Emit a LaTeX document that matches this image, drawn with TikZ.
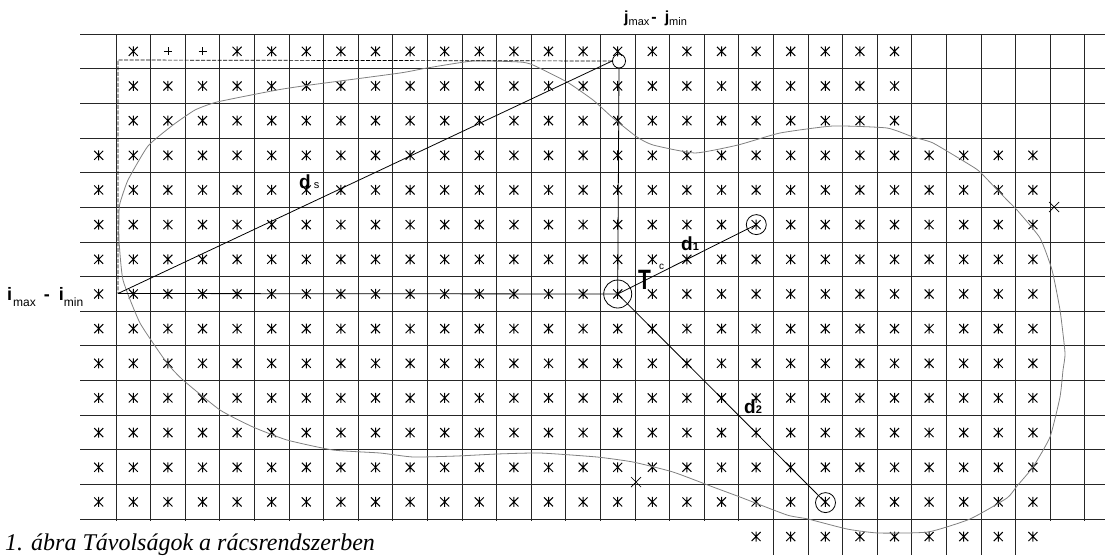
\documentclass[tikz,border=0pt]{standalone}
\usepackage{fontspec}
\setmainfont{Liberation Sans}
\newfontfamily\capfont{Liberation Serif}
\usepackage{tikz}
\usetikzlibrary{positioning, shapes.geometric}
\newcommand{\cw}{34.6}
\newcommand{\ch}{34.66}
\newcommand{\sub}[2][-2pt]{\raisebox{#1}{\fontsize{11}{11}\mdseries\selectfont #2}}
\newcommand{\cellstar}[2]{\draw[starline] ({98.7+#1*\cw},{16.67+#2*\ch}) +(-4.5,-4.5) -- +(4.5,4.5) +(-4.5,4.5) -- +(4.5,-4.5) +(0,-5) -- +(0,5);}
\newcommand{\cellplus}[2]{\draw[starline, line width=0.6pt] ({98.7+#1*\cw},{16.67+#2*\ch}) +(-4,0) -- +(4,0) +(0,-4) -- +(0,4);}
\tikzset{
  gridline/.style={black!85, line width=0.9pt},
  starline/.style={black, line width=1pt},
  outline/.style={gray, line width=0.8pt},
  dist/.style={black, line width=0.8pt},
  frame/.style={black, line width=0.7pt, dash pattern=on 4pt off 1.5pt},
  ring/.style={draw, circle, inner sep=0pt, line width=0.8pt},
  lbl/.style={inner sep=0pt, anchor=base west, font=\bfseries\fontsize{19}{19}\selectfont},
}

\begin{document}
\begin{tikzpicture}[x=1pt, y=-1pt]
  \useasboundingbox (0,0) rectangle (1105,555);
  % grid
  \foreach \r in {0,...,14}
    \draw[gridline] (80,{34+\r*\ch}) -- (1105,{34+\r*\ch});
  \foreach \k in {0,...,28}
    \draw[gridline] ({116+\k*\cw},34) -- ({116+\k*\cw},521);
  \foreach \k in {19,...,26}
    \draw[gridline] ({116+\k*\cw},521) -- ({116+\k*\cw},555);
  % markers
  \cellstar{1}{1}
  \cellplus{2}{1}
  \cellplus{3}{1}
  \foreach \c in {4,...,23} {\cellstar{\c}{1}}
  \foreach \r in {2,3} {\foreach \c in {1,...,23} {\cellstar{\c}{\r}}}
  \foreach \r in {4,...,14} {\foreach \c in {0,...,27} {\cellstar{\c}{\r}}}
  \foreach \c in {19,...,27} {\cellstar{\c}{15}}
  \draw[starline, line width=0.7pt] (1054,207) +(-5,-5) -- +(5,5) +(-5,5) -- +(5,-5);
  \draw[starline, line width=0.7pt] (636,482) +(-5,-5) -- +(5,5) +(-5,5) -- +(5,-5);
  % boundary
  \draw[outline] plot[smooth cycle, tension=0.3] coordinates {
    (120,203) (128,180) (148,146) (173,125) (195,110) (217,102) (277,90)
    (310,85) (400,73) (427,68) (473,61) (520,62) (533,65) (567,82)
    (593,100) (613,118) (637,137) (653,145) (695,153) (738,145) (780,133)
    (833,126) (887,128) (913,137) (933,143) (970,165) (980,172) (1007,200)
    (1017,210) (1040,238) (1052,270) (1060,310) (1065,353) (1063,370)
    (1060,397) (1050,437) (1033,467) (1017,486) (1007,498) (970,519)
    (928,532) (878,533) (847,529) (808,519) (787,515) (740,497) (713,487)
    (673,472) (633,462) (597,457) (540,453) (497,454) (457,456) (413,457)
    (380,453) (333,450) (287,440) (253,427) (220,410) (183,380) (167,363)
    (140,323) (123,280) (119,240) (119,213)};
  % points
  \node[ring, minimum size=28pt] (tc) at (617.7,294) {};
  \node[ring, minimum size=20pt] (p1) at (756.3,224.6) {};
  \node[ring, minimum size=20pt] (p2) at (825.5,502.6) {};
  \node[draw, ellipse, inner sep=0pt, minimum width=13pt, minimum height=14pt, line width=0.8pt] (top) at (619,61) {};
  \coordinate (corner) at (118,60);
  \coordinate (start) at (118,293.5);
  % distances
  \draw[frame] (top.west) -- (corner) -- (start);
  \draw[dist] (start) -- (top.west);
  \draw[dist] (start) -- (tc.center);
  \draw[dist] (top.south) -- (tc.center);
  \draw[dist] (tc.center) -- (p1.center);
  \draw[dist] (tc.center) -- (p2.center);
  % labels
  \node[lbl, font=\bfseries\fontsize{16}{16}\selectfont] (jlbl) at (624,22)
    {j\sub[-3pt]{max}\hspace{2pt}-\hspace{8pt}j\sub[-3pt]{min}};
  \node[lbl, font=\bfseries\fontsize{18}{18}\selectfont] (ilbl) at (7,300)
    {i\hspace{1pt}\sub[-6pt]{\fontsize{12}{12}\selectfont max}\hspace{8pt}-\hspace{9pt}i\sub[-6pt]{\fontsize{12}{12}\selectfont min}};
  \node[lbl] (dslbl) at (299,188) {d\hspace{3pt}\sub[0pt]{s}};
  \node[lbl] (d1lbl) at (681,250) {d\sub[0pt]{\bfseries 1}};
  \node[lbl] (d2lbl) at (744,413) {d\sub[0pt]{\bfseries 2}};
  \node[lbl, font=\bfseries\fontsize{28}{28}\selectfont] (tclbl) at (638,289)
    {\scalebox{0.75}[1]{T}\hspace{8pt}\raisebox{20pt}{\fontsize{10}{10}\mdseries\selectfont c}};
  \node[inner sep=0pt, anchor=base west, font=\capfont\itshape\fontsize{24}{24}\selectfont] (caption) at (5,550)
    {1. ábra Távolságok a rácsrendszerben};
\end{tikzpicture}
\end{document}
